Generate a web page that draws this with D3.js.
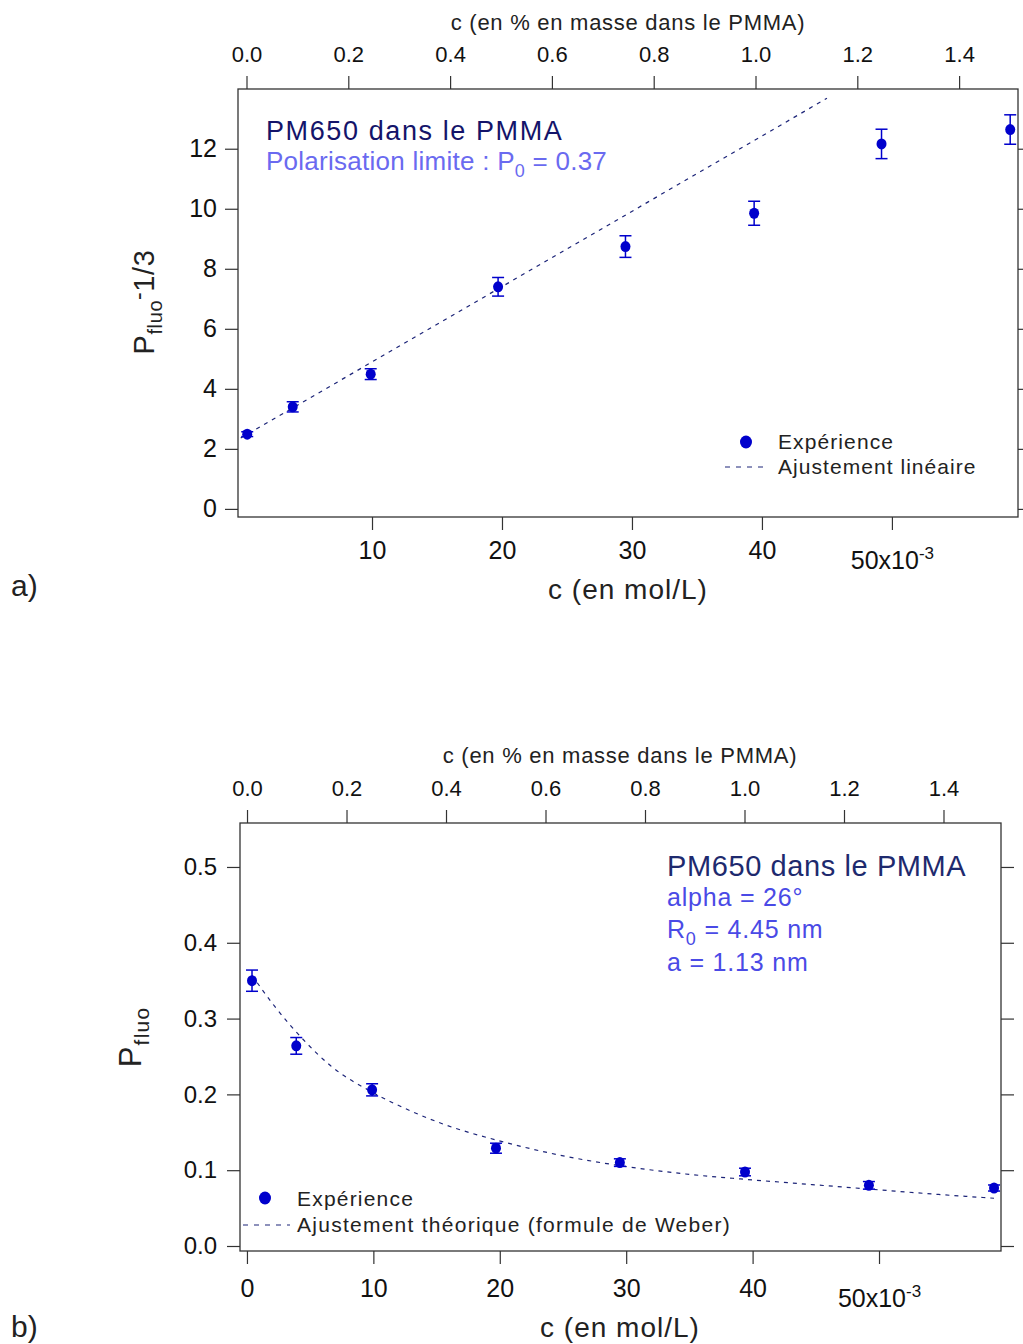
<!DOCTYPE html>
<html><head><meta charset="utf-8">
<script src="https://cdn.jsdelivr.net/npm/d3@7"></script>
<style>
body{margin:0;background:#fff;}
svg{display:block;font-family:"Liberation Sans",Arial,sans-serif;}
</style></head>
<body><svg id="c" width="1023" height="1344"></svg>
<script>
// ---------- data ----------
const concA = [0.4, 3.9, 9.9, 19.7, 29.5, 39.4, 49.2, 59.1];        // mmol/L (x10^-3 mol/L)
const perrinA = [2.49, 3.40, 4.49, 7.40, 8.74, 9.85, 12.16, 12.64];   // Pfluo^-1 - 1/3
const perrinErrA = [0.08, 0.17, 0.18, 0.31, 0.36, 0.40, 0.49, 0.49];
const fitLineA_c = [-0.1, 45.0];
const fitLineA_v = [2.36, 13.68];

const concB = [0.4, 3.9, 9.9, 19.7, 29.5, 39.4, 49.2, 59.1];
const pfluoB = [0.350, 0.264, 0.206, 0.129, 0.110, 0.0976, 0.080, 0.0765];
const pfluoErrB = [0.014, 0.011, 0.008, 0.0066, 0.005, 0.005, 0.005, 0.004];
const weberC = [0.4, 2.2, 4.7, 6.6, 9.9, 12.7, 15.5, 19.9, 24.7, 29.5, 34.7, 39.4, 44.7, 49.3, 54.7, 59.1];
const weberV = [0.357, 0.316, 0.268, 0.238, 0.203, 0.180, 0.161, 0.139, 0.120, 0.106, 0.095, 0.088, 0.081, 0.075, 0.068, 0.063];

const ticksBottomA = [10, 20, 30, 40, 50];
const ticksBottomB = [0, 10, 20, 30, 40, 50];
const ticksTop = [0.0, 0.2, 0.4, 0.6, 0.8, 1.0, 1.2, 1.4];
const ticksLeftA = [0, 2, 4, 6, 8, 10, 12];
const ticksLeftB = [0.0, 0.1, 0.2, 0.3, 0.4, 0.5];

// ---------- styles ----------
const markerColor = "#0000cc";
const fitColor = "#1c2478";
const svg = d3.select("#c");

function panel(cfg){
  const {L,R,T,B} = cfg;
  const g = svg.append("g");
  const x = d3.scaleLinear().domain(cfg.xDom).range([L,R]);
  const xt = d3.scaleLinear().domain(cfg.xtDom).range([L,R]);
  const y = d3.scaleLinear().domain(cfg.yDom).range([B,T]);

  g.append("rect").attr("x",L).attr("y",T).attr("width",R-L).attr("height",B-T)
    .attr("fill","none").attr("stroke","#333").attr("stroke-width",1.3);

  const styleAxis = (sel,fs)=>{
    sel.select(".domain").remove();
    sel.selectAll(".tick line").attr("stroke","#333").attr("stroke-width",1.2);
    sel.selectAll(".tick text").attr("fill","#111").attr("font-size",fs)
      .attr("font-family","'Liberation Sans',Arial,sans-serif");
  };
  const gb = g.append("g").attr("transform",`translate(0,${B})`)
    .call(d3.axisBottom(x).tickValues(cfg.bottomTicks).tickSize(13).tickPadding(cfg.bPad).tickFormat(d3.format("d")));
  styleAxis(gb, cfg.bFs);
  gb.selectAll(".tick text").filter(d=>d===50).each(function(){
    const t = d3.select(this); t.text(null);
    t.attr("dy","1.1em");
    t.append("tspan").text("50x10");
    t.append("tspan").attr("dy","-0.55em").attr("font-size",cfg.bFs*0.68).text("-3");
  });
  const gt = g.append("g").attr("transform",`translate(0,${T})`)
    .call(d3.axisTop(xt).tickValues(ticksTop).tickSize(13).tickPadding(14).tickFormat(d3.format(".1f")));
  styleAxis(gt, cfg.tFs);
  const gl = g.append("g").attr("transform",`translate(${L},0)`)
    .call(d3.axisLeft(y).tickValues(cfg.leftTicks).tickSize(13).tickPadding(cfg.lPad).tickFormat(cfg.lFmt));
  styleAxis(gl, cfg.lFs);
  const gr = g.append("g").attr("transform",`translate(${R},0)`)
    .call(d3.axisRight(y).tickValues(cfg.leftTicks).tickSize(13).tickFormat(""));
  styleAxis(gr, 10);

  g.append("path").datum(cfg.fitC.map((c,i)=>[c,cfg.fitV[i]]))
    .attr("d", d3.line().x(d=>x(d[0])).y(d=>y(d[1])).curve(d3.curveMonotoneX))
    .attr("fill","none").attr("stroke",fitColor).attr("stroke-width",1.2).attr("stroke-dasharray","4,5");

  const pts = cfg.xs.map((c,i)=>({c, v:cfg.ys[i], e:cfg.es[i]}));
  const eb = g.append("g").attr("stroke",markerColor).attr("stroke-width",1.5).attr("fill","none");
  pts.forEach(p=>{
    const px=x(p.c), y1=y(p.v+p.e), y2=y(p.v-p.e);
    eb.append("line").attr("x1",px).attr("x2",px).attr("y1",y1).attr("y2",y2);
    eb.append("line").attr("x1",px-6).attr("x2",px+6).attr("y1",y1).attr("y2",y1);
    eb.append("line").attr("x1",px-6).attr("x2",px+6).attr("y1",y2).attr("y2",y2);
  });
  g.append("g").selectAll("ellipse").data(pts).join("ellipse")
    .attr("cx",d=>x(d.c)).attr("cy",d=>y(d.v)).attr("rx",5).attr("ry",5.5).attr("fill",markerColor);
  return {g,x,y};
}

const A = panel({L:238,R:1018,T:89,B:517,
  xDom:[-0.31,59.7], xtDom:[-0.0167,1.5157], yDom:[-0.27,13.99],
  bottomTicks:ticksBottomA, leftTicks:ticksLeftA, lFmt:d3.format("d"),
  bPad:11, lPad:8, bFs:25, tFs:22, lFs:25,
  fitC:fitLineA_c, fitV:fitLineA_v, xs:concA, ys:perrinA, es:perrinErrA});

const Bp = panel({L:240,R:1001,T:823,B:1251,
  xDom:[-0.55,59.65], xtDom:[-0.0141,1.5156], yDom:[-0.0066,0.558],
  bottomTicks:ticksBottomB, leftTicks:ticksLeftB, lFmt:d3.format(".1f"),
  bPad:15, lPad:10, bFs:25, tFs:22, lFs:24,
  fitC:weberC, fitV:weberV, xs:concB, ys:pfluoB, es:pfluoErrB});

function txt(x,y,s,fs,col,anchor,ls){
  return svg.append("text").attr("x",x).attr("y",y).attr("font-size",fs)
    .attr("fill",col||"#222").attr("text-anchor",anchor||"start")
    .attr("letter-spacing",ls||0).text(s);
}
// axis titles a
txt(628,30,"c (en % en masse dans le PMMA)",22,"#222","middle",0.73);
txt(628,599,"c (en mol/L)",28,"#222","middle",1.0);
{
  const t = svg.append("text").attr("transform","translate(154,302) rotate(-90)")
    .attr("text-anchor","middle").attr("font-size",29).attr("fill","#222").attr("letter-spacing",0.6);
  t.append("tspan").text("P");
  t.append("tspan").attr("font-size",20).attr("dy",8).text("fluo");
  t.append("tspan").attr("font-size",23).attr("dy",-16).text("-");
  t.append("tspan").attr("dy",8).text("1/3");
}
txt(11,596,"a)",30,"#222");
txt(266,140,"PM650 dans le PMMA",27,"#14146a","start",1.6);
{
  const t = txt(266,170,"Polarisation limite : P",26,"#6a6af0","start",0.26);
  t.append("tspan").attr("font-size",18).attr("dy",7).text("0");
  t.append("tspan").attr("dy",-7).text(" = 0.37");
}
svg.append("ellipse").attr("cx",746).attr("cy",442).attr("rx",6).attr("ry",6.5).attr("fill",markerColor);
txt(778,449,"Expérience",21,"#222","start",1.1);
svg.append("line").attr("x1",725).attr("x2",769).attr("y1",467).attr("y2",467)
  .attr("stroke",fitColor).attr("stroke-width",1.2).attr("stroke-dasharray","5,6");
txt(778,474,"Ajustement linéaire",21,"#222","start",1.05);

// axis titles b
txt(620,763,"c (en % en masse dans le PMMA)",22,"#222","middle",0.73);
txt(620,1337,"c (en mol/L)",28,"#222","middle",1.0);
{
  const t = svg.append("text").attr("transform","translate(141,1037) rotate(-90)")
    .attr("text-anchor","middle").attr("font-size",31).attr("fill","#222").attr("letter-spacing",1.2);
  t.append("tspan").text("P");
  t.append("tspan").attr("font-size",21).attr("dy",8).text("fluo");
}
txt(11,1337,"b)",30,"#222");
txt(667,876,"PM650 dans le PMMA",29,"#1e2a6e","start",0.6);
txt(667,906,"alpha = 26°",25,"#4a4ae6","start",0.8);
{
  const t = txt(667,938,"R",25,"#4a4ae6","start",0.8);
  t.append("tspan").attr("font-size",18).attr("dy",7).text("0");
  t.append("tspan").attr("dy",-7).text(" = 4.45 nm");
}
txt(667,971,"a = 1.13 nm",25,"#4a4ae6","start",0.8);
svg.append("ellipse").attr("cx",265).attr("cy",1198).attr("rx",6).attr("ry",6.5).attr("fill",markerColor);
txt(297,1206,"Expérience",21,"#222","start",1.2);
svg.append("line").attr("x1",243).attr("x2",290).attr("y1",1225).attr("y2",1225)
  .attr("stroke",fitColor).attr("stroke-width",1.2).attr("stroke-dasharray","5,6");
txt(297,1232,"Ajustement théorique (formule de Weber)",21,"#222","start",1.26);
</script></body></html>
